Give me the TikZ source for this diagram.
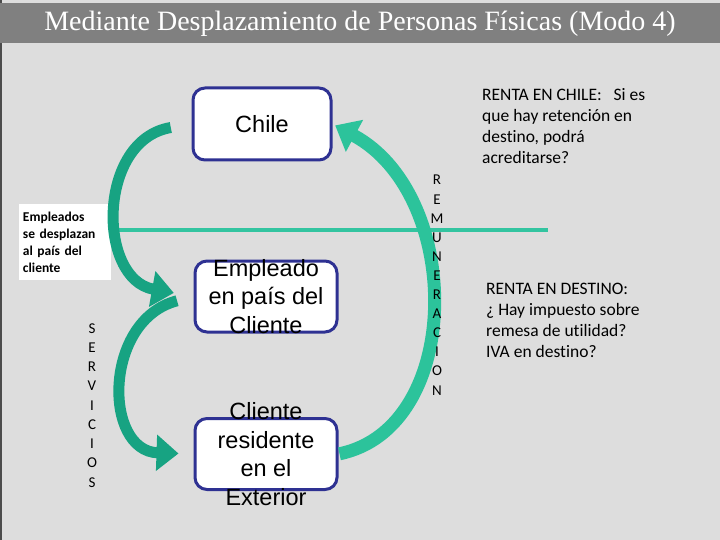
\documentclass[tikz,border=0pt]{standalone}
\usepackage{fontspec}
\setmainfont{Liberation Sans}
\newfontfamily\titlefont{Liberation Serif}
\newfontfamily\notefont[Ligatures=NoCommon]{Carlito}
\usetikzlibrary{arrows.meta}
\definecolor{pageBg}{HTML}{DDDDDD}
\definecolor{barFill}{HTML}{808080}
\definecolor{boxDraw}{HTML}{2E3192}
\definecolor{arrowDark}{HTML}{17A382}
\definecolor{arrowLight}{HTML}{2CC39B}
\definecolor{lineGreen}{HTML}{33C4A0}
\tikzset{
  box/.style    ={draw=boxDraw, fill=white, rounded corners=12pt, line width=3pt,
                  minimum width=142pt, minimum height=71pt},
  boxtext/.style={align=center, inner sep=0pt, font=\fontsize{23.5}{28.5}\selectfont},
  note/.style   ={align=left, inner sep=0pt, font=\notefont\fontsize{17.5}{21}\selectfont},
  letter/.style ={inner sep=0pt, font=\notefont\fontsize{15}{15}\selectfont},
  garrow/.style ={line width=11pt, -{Triangle[length=22pt,width=35pt]}},
}
\begin{document}
\begin{tikzpicture}[x=1pt,y=-1pt]
  \useasboundingbox (0,0) rectangle (720,540);
  \fill[pageBg] (0,0) rectangle (720,540);
  \draw[black!70, line width=2pt] (1,0) -- (1,540);

  % title bar
  \node[fill=barFill, minimum width=720pt, minimum height=40pt, inner sep=0pt, text=white,
        font=\titlefont\fontsize{28}{28}\selectfont] (title) at (360,23.5)
        {Mediante Desplazamiento de Personas Físicas (Modo 4)};

  % left note and separator
  \node[fill=white, text width=84pt, inner xsep=4pt, minimum height=76pt, align=left,
        font=\notefont\bfseries\fontsize{13.5}{17}\selectfont] (move) at (65,242)
        {Empleados\\se desplazan\\al país del\\cliente};
  \draw[lineGreen, line width=3.5pt] (111,230) -- (548,230);

  % the three places
  \node[box, minimum width=138pt, minimum height=72pt] (chile) at (262,124) {};
  \node[boxtext] (chileT) at (chile) {Chile};
  \node[box] (emp) at (266,296.5) {};
  \node[boxtext] (empT) at (emp) {Empleado\\en país del\\Cliente};
  \node[box] (cli) at (266,454) {};
  \node[boxtext] (cliT) at (cli) {Cliente\\residente\\en el\\Exterior};

  % flows
  \draw[garrow, draw=arrowDark, shorten <=21pt, shorten >=20pt]
    (chile.west) .. controls (97,140) and (97,279) .. (emp.west);
  \draw[garrow, draw=arrowDark, shorten <=17pt, shorten >=15pt]
    (emp.west) .. controls (103,320) and (103,451) .. (cli.west);
  \draw[garrow, draw=arrowLight, line width=13pt, shorten <=1pt, shorten >=3pt]
    (cli.east) .. controls (464,428) and (464,195) .. (chile.east);

  % vertical words
  \foreach \ch [count=\i] in {S,E,R,V,I,C,I,O,S}
    \node[letter] (serv\i) at (92,309+19.25*\i) {\ch};
  \foreach \ch [count=\i] in {R,E,M,U,N,E,R,A,C,I,O,N}
    \node[letter] (rem\i) at (437,161+19.1*\i) {\ch};

  % questions
  \node[note, anchor=north west] (rentaChile) at (482,88)
        {RENTA EN CHILE:~~~Si es\\que hay retención en\\destino, podrá\\acreditarse?};
  \node[note, anchor=north west] (rentaDest) at (486,283)
        {RENTA EN DESTINO:\\¿ Hay impuesto sobre\\remesa de utilidad?\\IVA en destino?};
\end{tikzpicture}
\end{document}
